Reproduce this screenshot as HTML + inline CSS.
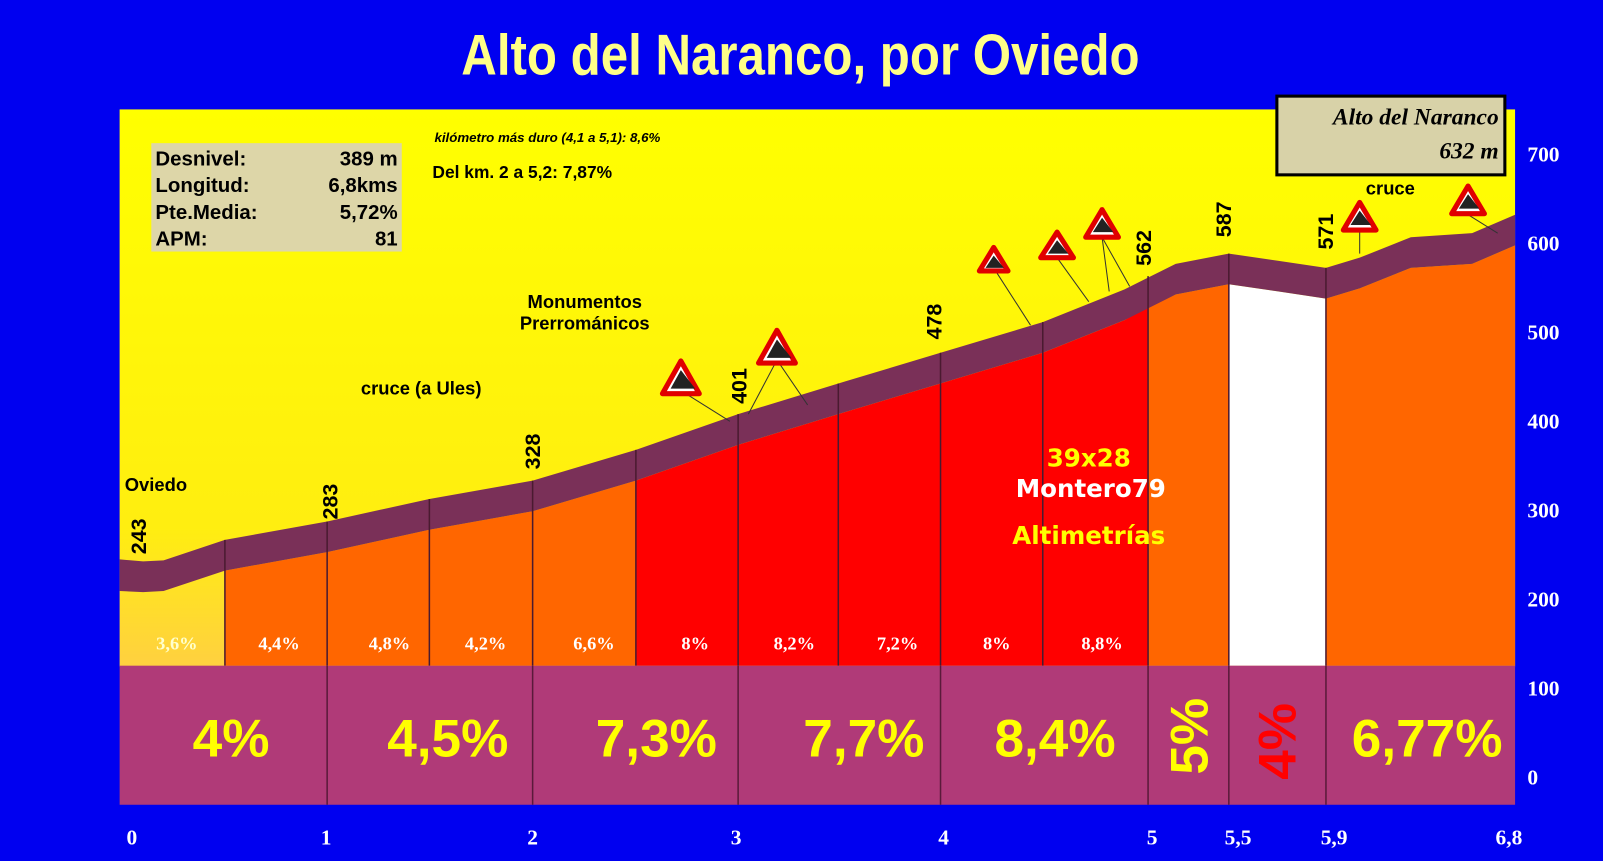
<!DOCTYPE html>
<html><head><meta charset="utf-8"><style>
html,body{margin:0;padding:0;background:#0000f0;overflow:hidden}
svg{display:block}
</style></head><body>
<svg width="1603" height="861" viewBox="0 0 1568 842" preserveAspectRatio="none" xmlns="http://www.w3.org/2000/svg" font-family="Liberation Sans, sans-serif">
<defs>
<linearGradient id="bg" x1="0" y1="0" x2="0" y2="1">
<stop offset="0" stop-color="#ffff00"/><stop offset="0.75" stop-color="#ffee10"/><stop offset="1" stop-color="#ffd040"/>
</linearGradient>
</defs>
<rect width="1568" height="842" fill="#0000f0"/>
<text x="783" y="73" text-anchor="middle" font-size="56" font-weight="bold" fill="#ffff88" font-family="Liberation Sans Narrow, Liberation Sans, sans-serif" transform="translate(783 0) scale(0.86 1) translate(-783 0)">Alto del Naranco, por Oviedo</text>
<rect x="117" y="107" width="1365" height="545" fill="url(#bg)"/>
<polygon points="220,558 320,540 320,651 220,651" fill="#ff6600"/>
<polygon points="320,540 420,518 521,500 622,470 622,651 320,651" fill="#ff6600"/>
<polygon points="622,470 722,435 820,405 920,375 1020,345 1100,313 1123,300 1123,651 622,651" fill="#ff0000"/>
<polygon points="1123,300 1150,288 1202,278 1202,651 1123,651" fill="#ff6600"/>
<polygon points="1202,278 1250,285 1297,292 1297,651 1202,651" fill="#ffffff"/>
<polygon points="1297,292 1330,282 1380,262 1440,258 1482,240 1482,651 1297,651" fill="#ff6600"/>
<polygon points="117,547 140,549 160,548 220,528 320,510 420,488 521,470 622,440 722,405 820,375 920,345 1020,315 1100,283 1150,258 1202,248 1250,255 1297,262 1330,252 1380,232 1440,228 1482,210 1482,240 1440,258 1380,262 1330,282 1297,292 1250,285 1202,278 1150,288 1100,313 1020,345 920,375 820,405 722,435 622,470 521,500 420,518 320,540 220,558 160,578 140,579 117,578" fill="#7a3058"/>
<g stroke="#4a1a30" stroke-width="1.5">
<line x1="220" y1="528" x2="220" y2="651"/><line x1="320" y1="510" x2="320" y2="651"/><line x1="420" y1="488" x2="420" y2="651"/><line x1="521" y1="470" x2="521" y2="651"/><line x1="622" y1="440" x2="622" y2="651"/><line x1="722" y1="405" x2="722" y2="651"/><line x1="820" y1="375" x2="820" y2="651"/><line x1="920" y1="345" x2="920" y2="651"/><line x1="1020" y1="315" x2="1020" y2="651"/><line x1="1123" y1="270" x2="1123" y2="651"/><line x1="1202" y1="248" x2="1202" y2="651"/><line x1="1297" y1="262" x2="1297" y2="651"/>
</g>
<rect x="117" y="651" width="1365" height="136" fill="#b03a78"/>
<g stroke="#5a1a3a" stroke-width="1.5">
<line x1="320" y1="651" x2="320" y2="787"/><line x1="521" y1="651" x2="521" y2="787"/><line x1="722" y1="651" x2="722" y2="787"/><line x1="920" y1="651" x2="920" y2="787"/><line x1="1123" y1="651" x2="1123" y2="787"/><line x1="1202" y1="651" x2="1202" y2="787"/><line x1="1297" y1="651" x2="1297" y2="787"/>
</g>
<g font-size="52" font-weight="bold" fill="#ffff00" text-anchor="middle">
<text x="226" y="740">4%</text><text x="438" y="740">4,5%</text><text x="642" y="740">7,3%</text><text x="845" y="740">7,7%</text><text x="1032" y="740">8,4%</text><text x="1396" y="740">6,77%</text>
<text transform="translate(1181 720) rotate(-90)">5%</text>
<text transform="translate(1267 725) rotate(-90)" fill="#ff0000">4%</text>
</g>
<g font-family="Liberation Serif, serif" font-size="18" font-weight="bold" fill="#ffffff" text-anchor="middle">
<text x="173" y="635" fill="#ffffcc">3,6%</text><text x="273" y="635">4,4%</text><text x="381" y="635">4,8%</text><text x="475" y="635">4,2%</text><text x="581" y="635">6,6%</text><text x="680" y="635">8%</text><text x="777" y="635">8,2%</text><text x="878" y="635">7,2%</text><text x="975" y="635">8%</text><text x="1078" y="635">8,8%</text>
</g>
<g font-family="Liberation Serif, serif" font-size="21" font-weight="bold" fill="#ffffff">
<text x="1494" y="158">700</text><text x="1494" y="245">600</text><text x="1494" y="332">500</text><text x="1494" y="419">400</text><text x="1494" y="506">300</text><text x="1494" y="593">200</text><text x="1494" y="680">100</text><text x="1494" y="767">0</text>
</g>
<g font-family="Liberation Serif, serif" font-size="21" font-weight="bold" fill="#ffffff" text-anchor="middle">
<text x="129" y="826">0</text><text x="319" y="826">1</text><text x="521" y="826">2</text><text x="720" y="826">3</text><text x="923" y="826">4</text><text x="1127" y="826">5</text><text x="1211" y="826">5,5</text><text x="1305" y="826">5,9</text><text x="1476" y="826">6,8</text>
</g>
<rect x="148" y="140" width="245" height="106" fill="#ddd6a8"/>
<g font-size="20" font-weight="bold" fill="#000">
<text x="152" y="162">Desnivel:</text><text x="389" y="162" text-anchor="end">389 m</text>
<text x="152" y="188">Longitud:</text><text x="389" y="188" text-anchor="end">6,8kms</text>
<text x="152" y="214">Pte.Media:</text><text x="389" y="214" text-anchor="end">5,72%</text>
<text x="152" y="240">APM:</text><text x="389" y="240" text-anchor="end">81</text>
</g>
<rect x="1249" y="94" width="223" height="77" fill="#d8d2a8" stroke="#000" stroke-width="3"/>
<g font-family="Liberation Serif, serif" font-style="italic" font-weight="bold" font-size="23" fill="#000" text-anchor="end">
<text x="1466" y="122">Alto del Naranco</text><text x="1466" y="155">632 m</text>
</g>
<text x="425" y="139" font-size="13" font-style="italic" font-weight="bold">kilómetro más duro (4,1 a 5,1):  8,6%</text>
<text x="423" y="174" font-size="17" font-weight="bold">Del km. 2 a 5,2:    7,87%</text>
<g font-size="18" font-weight="bold" fill="#000">
<text x="122" y="480">Oviedo</text>
<text x="353" y="386">cruce (a Ules)</text>
<text x="572" y="301" text-anchor="middle">Monumentos</text>
<text x="572" y="322" text-anchor="middle">Prerrománicos</text>
<text x="1360" y="190" text-anchor="middle">cruce</text>
</g>
<g font-size="21" font-weight="bold" fill="#000">
<text transform="translate(143 542) rotate(-90)">243</text>
<text transform="translate(330 508) rotate(-90)">283</text>
<text transform="translate(528 459) rotate(-90)">328</text>
<text transform="translate(730 395) rotate(-90)">401</text>
<text transform="translate(921 332) rotate(-90)">478</text>
<text transform="translate(1126 260) rotate(-90)">562</text>
<text transform="translate(1204 232) rotate(-90)">587</text>
<text transform="translate(1304 244) rotate(-90)">571</text>
</g>
<g stroke="#333" stroke-width="1">
<line x1="666" y1="382" x2="714" y2="412"/><line x1="760" y1="352" x2="732" y2="405"/><line x1="760" y1="352" x2="790" y2="396"/>
<line x1="972" y1="262" x2="1008" y2="318"/><line x1="1034" y1="252" x2="1065" y2="295"/><line x1="1078" y1="232" x2="1085" y2="285"/><line x1="1078" y1="232" x2="1105" y2="280"/>
<line x1="1330" y1="222" x2="1330" y2="248"/><line x1="1436" y1="210" x2="1465" y2="228"/>
</g>
<g fill="#ffffff" stroke="#e00000" stroke-width="5" stroke-linejoin="round">
<polygon points="666,353 648,385 684,385"/><polygon points="760,323 742,355 778,355"/>
<polygon points="972,242 958,265 986,265"/><polygon points="1034,227 1018,252 1050,252"/><polygon points="1078,205 1062,232 1094,232"/>
<polygon points="1330,198 1314,225 1346,225"/><polygon points="1436,182 1420,209 1452,209"/>
</g>
<g fill="#222">
<polygon points="666,362 656,380 680,380"/><polygon points="760,332 750,350 774,350"/>
<polygon points="972,250 964,262 982,262"/><polygon points="1034,235 1025,248 1045,248"/><polygon points="1078,213 1069,227 1089,227"/>
<polygon points="1330,206 1321,220 1341,220"/><polygon points="1436,190 1427,204 1447,204"/>
</g>
<g font-size="24" font-weight="bold" text-anchor="middle" font-family="DejaVu Sans, sans-serif">
<text x="1065" y="456" fill="#ffff00">39x28</text>
<text x="1067" y="486" fill="#ffffff">Montero79</text>
<text x="1065" y="532" fill="#ffff00">Altimetrías</text>
</g>
</svg>
</body></html>
